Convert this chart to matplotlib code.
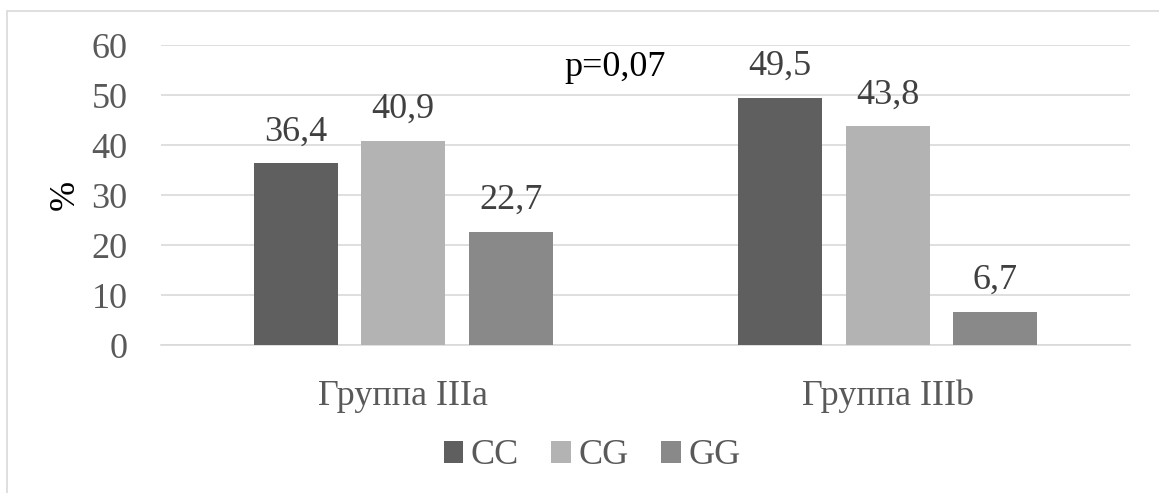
import matplotlib
matplotlib.use("Agg")
import matplotlib.pyplot as plt
from matplotlib.patches import Rectangle
import numpy as np

categories = ["Группа IIIa", "Группа IIIb"]
series_names = ["CC", "CG", "GG"]
cc = [36.4, 49.5]
cg = [40.9, 43.8]
gg = [22.7, 6.7]
values = [cc, cg, gg]
colors = ["#5f5f5f", "#b3b3b3", "#898989"]
yticks = [0, 10, 20, 30, 40, 50, 60]
annotation = "p=0,07"

plt.rcParams['font.family'] = ['Liberation Serif', 'DejaVu Serif']

W, H = 1159, 493
fig = plt.figure(figsize=(W / 100, H / 100), dpi=100)
ax = fig.add_axes([161 / W, 1 - 345 / H, (1130 - 161) / W, 300 / H])

x = np.arange(len(categories))
width = 0.1734
step = 0.222
handles = []
for i, (name, vals, col) in enumerate(zip(series_names, values, colors)):
    pos = x + (i - 1) * step
    b = ax.bar(pos, vals, width=width, color=col, label=name, zorder=3)
    handles.append(b)
    for p, v in zip(pos, vals):
        ax.annotate(f"{v:.1f}".replace(".", ","), (p, v), xytext=(0, 10.5),
                    textcoords="offset points", ha="center", va="bottom",
                    fontsize=26, color="#404040")

ax.set_xlim(-0.5, 1.5)
ax.set_ylim(0, 60)
ax.set_yticks(yticks)
ax.set_xticks(x)
ax.set_xticklabels(categories)
ax.tick_params(axis='both', length=0, labelsize=26, labelcolor="#595959")
ax.tick_params(axis='y', pad=24)
ax.tick_params(axis='x', pad=25)
ax.grid(axis='y', color="#d9d9d9", linewidth=1.2, zorder=0)
for s in ["top", "right", "left"]:
    ax.spines[s].set_visible(False)
ax.spines["bottom"].set_color("#d9d9d9")
ax.spines["bottom"].set_linewidth(1.2)

fig.text(615 / W, 1 - 68 / H, annotation, fontsize=26, color="black",
         ha="center", va="center")
fig.text(65 / W, 1 - 195 / H, "%", fontsize=26, color="black",
         ha="center", va="center", rotation=90)

leg = fig.legend(handles=handles, labels=series_names, loc="center",
                 bbox_to_anchor=(592 / W, 1 - 456 / H), ncol=3, frameon=False,
                 fontsize=26, handlelength=0.55, handleheight=0.55,
                 handletextpad=0.2, columnspacing=0.9, labelcolor="#595959")

fig.patches.append(Rectangle((7 / W, -0.1), 1.2, 1 - 11 / H + 0.1,
                             transform=fig.transFigure, fill=False,
                             edgecolor="#d9d9d9", linewidth=1.2))

fig.savefig("out.png", dpi=100)
